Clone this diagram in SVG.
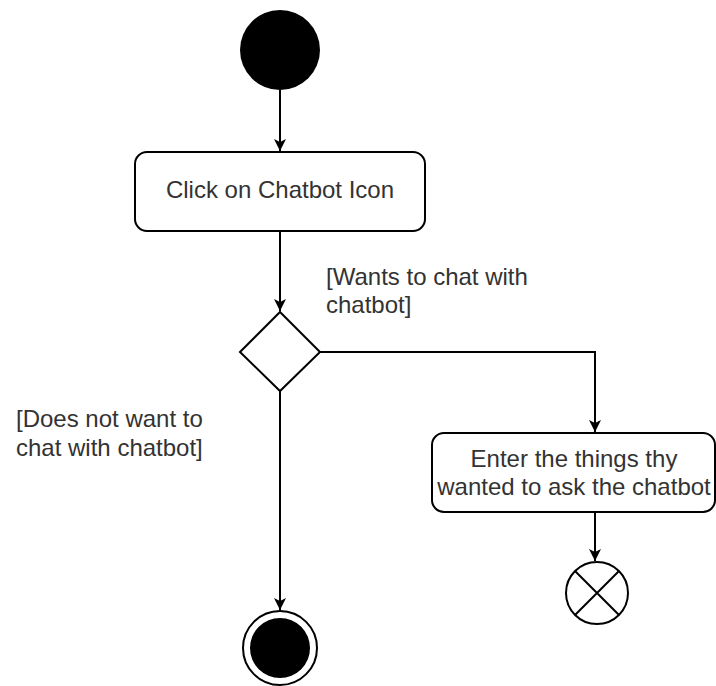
<svg xmlns="http://www.w3.org/2000/svg" width="716" height="686" viewBox="0 0 716 686">
<defs>
<marker id="arr" viewBox="0 0 12 12" refX="12" refY="6" markerWidth="12" markerHeight="12" markerUnits="userSpaceOnUse" orient="auto">
<path d="M0,0 L12,6 L0,12 L3,6 Z" fill="#000"/>
</marker>
<style>
.lbl{font-family:"Liberation Sans",Arial,sans-serif;font-size:24px;fill:#333}
.box{fill:#fff;stroke:#000;stroke-width:2}
.edge{fill:none;stroke:#000;stroke-width:2;marker-end:url(#arr)}
</style>
</defs>
<rect width="716" height="686" fill="#fff"/>
<g id="connectors">
<path class="edge" d="M280,90 L280,151"/>
<path class="edge" d="M280,231 L280,311"/>
<path class="edge" d="M320,352 L595,352 L595,432"/>
<path class="edge" d="M280,391 L280,610"/>
<path class="edge" d="M595,512 L595,561"/>
</g>
<g id="start"><circle cx="280" cy="50" r="40" fill="#000"/></g>
<g id="click"><rect class="box" x="135" y="152" width="290" height="79" rx="12"/>
<text class="lbl" x="280" y="198" text-anchor="middle">Click on Chatbot Icon</text></g>
<g id="decision"><polygon class="box" points="280,312 320,352 280,391 240,352"/></g>
<g id="wants-label"><text class="lbl" x="326" y="285">[Wants to chat with</text><text class="lbl" x="326" y="313">chatbot]</text></g>
<g id="not-label"><text class="lbl" x="16" y="427">[Does not want to</text><text class="lbl" x="16" y="456">chat with chatbot]</text></g>
<g id="enter"><rect class="box" x="432" y="433" width="283" height="79" rx="12"/>
<text class="lbl" x="574" y="467" text-anchor="middle">Enter the things thy</text>
<text class="lbl" x="574" y="495" text-anchor="middle">wanted to ask the chatbot</text></g>
<g id="flow-final"><circle cx="597" cy="593" r="31" fill="#fff" stroke="#000" stroke-width="2"/>
<path d="M575,571 L619,615 M619,571 L575,615" stroke="#000" stroke-width="2"/></g>
<g id="end"><circle cx="280" cy="648" r="37" fill="#fff" stroke="#000" stroke-width="2"/><circle cx="280" cy="648" r="30" fill="#000"/></g>
</svg>
